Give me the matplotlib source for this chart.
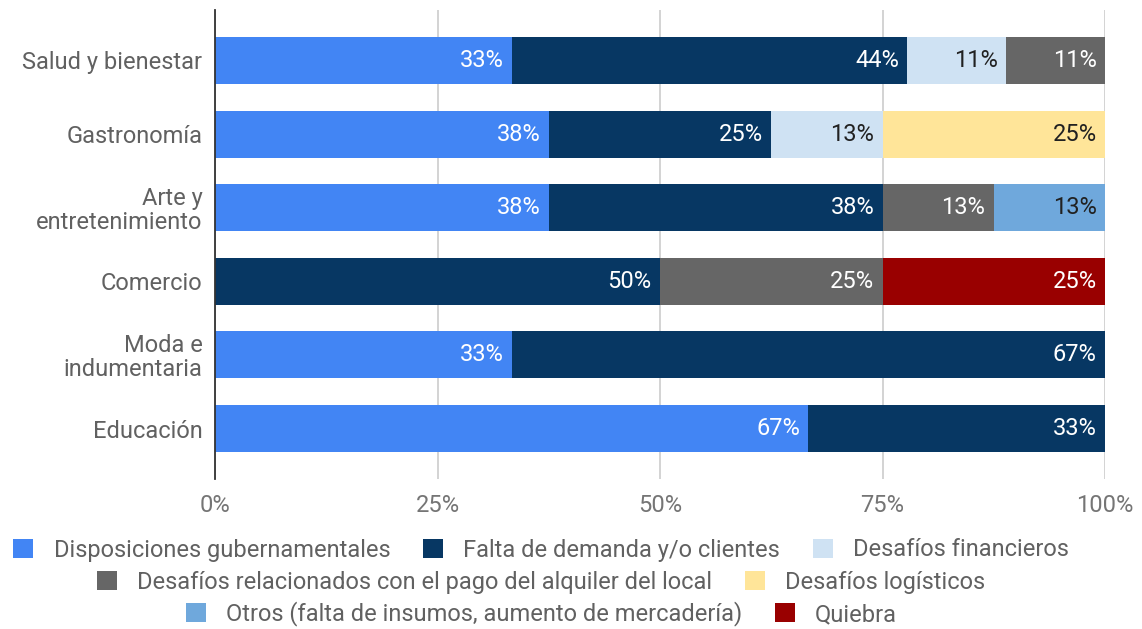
import matplotlib.pyplot as plt
from matplotlib.patches import Patch

plt.rcParams['font.family'] = ['Roboto', 'DejaVu Sans']

categories = ['Salud y bienestar', 'Gastronomía', 'Arte y\nentretenimiento', 'Comercio',
              'Moda e\nindumentaria', 'Educación']
seriesNames = ['Disposiciones gubernamentales', 'Falta de demanda y/o clientes', 'Desafíos financieros',
               'Desafíos relacionados con el pago del alquiler del local', 'Desafíos logísticos',
               'Otros (falta de insumos, aumento de mercadería)', 'Quiebra']
disposiciones = [33.33, 37.5, 37.5, 0, 33.33, 66.67]
faltaDemanda = [44.44, 25, 37.5, 50, 66.67, 33.33]
financieros = [11.11, 12.5, 0, 0, 0, 0]
alquiler = [11.11, 0, 12.5, 25, 0, 0]
logisticos = [0, 25, 0, 0, 0, 0]
otros = [0, 0, 12.5, 0, 0, 0]
quiebra = [0, 0, 0, 25, 0, 0]
xTicks = [0, 25, 50, 75, 100]
xTickLabels = ['0%', '25%', '50%', '75%', '100%']

series = [disposiciones, faltaDemanda, financieros, alquiler, logisticos, otros, quiebra]
colors = ['#4285F4', '#073763', '#CFE2F3', '#666666', '#FFE599', '#6FA8DC', '#990000']
textColors = ['white', 'white', '#212121', 'white', '#212121', '#212121', 'white']

fig = plt.figure(figsize=(11.42, 6.29), dpi=100)
ax = fig.add_axes([215 / 1142, 1 - 479 / 629, 890 / 1142, 469 / 629])

yPos = list(range(len(categories)))
left = [0] * len(categories)
for values, color, textColor in zip(series, colors, textColors):
    ax.barh(yPos, values, left=left, height=0.64, color=color, zorder=2)
    for i, v in enumerate(values):
        if v > 0:
            # right-aligned label at the end of each segment
            ax.annotate('{}%'.format(int(v + 0.5)), (left[i] + v, i), xytext=(-6, 0),
                        textcoords='offset points', ha='right', va='center',
                        fontsize=17, color=textColor, zorder=3)
    left = [l + v for l, v in zip(left, values)]

ax.set_xlim(0, 100)
ax.set_ylim(5.686, -0.686)
ax.set_xticks(xTicks)
ax.set_xticklabels(xTickLabels)
ax.set_yticks(yPos)
ax.set_yticklabels(categories, linespacing=1.02)
ax.tick_params(axis='x', length=0, pad=11, labelsize=17, labelcolor='#757575')
ax.tick_params(axis='y', length=0, pad=9, labelsize=17, labelcolor='#616161')
ax.grid(axis='x', color='#cccccc', linewidth=1.2, zorder=0)
for side in ['top', 'right', 'bottom']:
    ax.spines[side].set_visible(False)
ax.spines['left'].set_color('#333333')
ax.spines['left'].set_linewidth(1.3)
ax.spines['left'].set_zorder(4)

# legend in three centered rows, like the original
rows = [[0, 1, 2], [3, 4], [5, 6]]
rowY = [1 - 550 / 629, 1 - 582 / 629, 1 - 614 / 629]
for row, y in zip(rows, rowY):
    handles = [Patch(facecolor=colors[k], edgecolor='none') for k in row]
    labels = [seriesNames[k] for k in row]
    fig.legend(handles, labels, loc='center', bbox_to_anchor=(0.474, y), ncol=len(row), frameon=False,
               fontsize=17, labelcolor='#616161', handlelength=0.85, handleheight=0.85,
               handletextpad=0.85, columnspacing=1.4, borderpad=0, borderaxespad=0)

plt.savefig('out.png', dpi=100)
